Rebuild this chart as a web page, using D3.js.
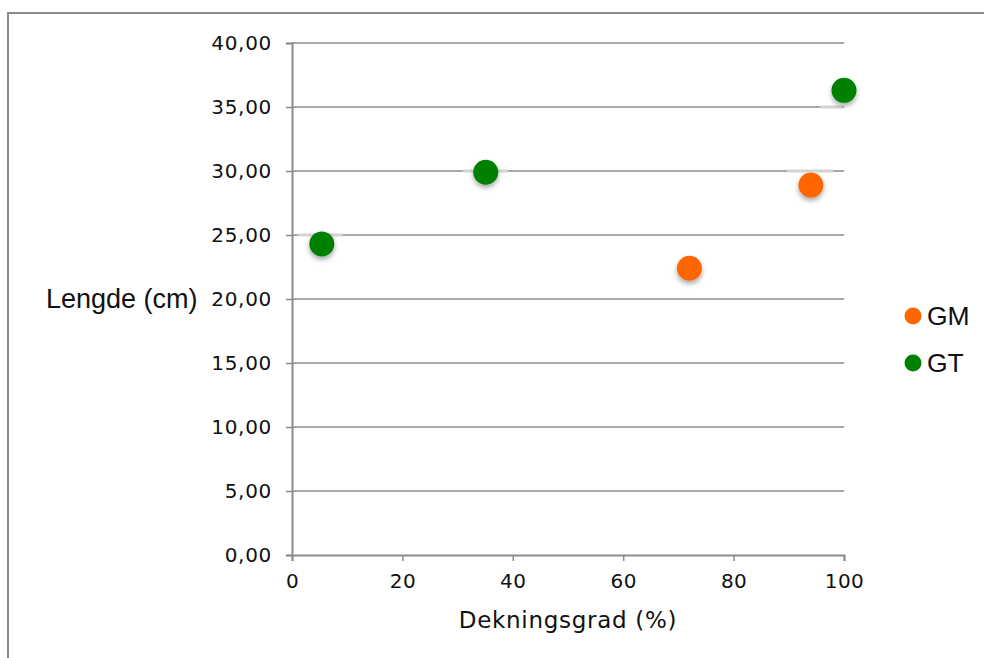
<!DOCTYPE html>
<html>
<head>
<meta charset="utf-8">
<script src="https://cdn.jsdelivr.net/npm/d3@7"></script>
<style>
  html, body { margin: 0; padding: 0; background: #fff; }
  svg { display: block; }
</style>
</head>
<body>
<svg id="chart" width="984" height="658"></svg>
<script>
// ---- data ----
const seriesNames = ["GM", "GT"];
const seriesColors = ["#ff6600", "#008000"];
const gmX = [72, 94];
const gmY = [22.4, 28.9];
const gtX = [5.4, 35.1, 100];
const gtY = [24.3, 29.9, 36.3];
const xTicks = [0, 20, 40, 60, 80, 100];
const yTicks = [0, 5, 10, 15, 20, 25, 30, 35, 40];
// light grey highlight segments seen over gridlines near markers: [x1, x2, y]
const highlights = [[1.1, 9.2, 25], [31, 39.1, 30], [95.7, 99.8, 35], [89.7, 98, 30]];
const xTitle = "Dekningsgrad (%)";
const yTitle = "Lengde (cm)";

// ---- layout ----
const svg = d3.select("#chart");
const x = d3.scaleLinear().domain([0, 100]).range([292, 844]);
const y = d3.scaleLinear().domain([0, 40]).range([555, 43]);
const fmtY = v => d3.format(".2f")(v).replace(".", ",");
const tickFont = "'DejaVu Sans', Verdana, sans-serif";

// outer frame
svg.append("path")
  .attr("d", "M8,660 L8,13 L986,13")
  .attr("fill", "none").attr("stroke", "#8a8a8a").attr("stroke-width", 2);

// drop shadow filter
const defs = svg.append("defs");
const f = defs.append("filter").attr("id", "shadow")
  .attr("x", "-50%").attr("y", "-50%").attr("width", "200%").attr("height", "200%");
f.append("feDropShadow").attr("dx", 0).attr("dy", 3).attr("stdDeviation", 2.5)
  .attr("flood-color", "#000").attr("flood-opacity", 0.35);

// gridlines
svg.append("g").selectAll("line").data(yTicks.filter(d => d > 0)).join("line")
  .attr("x1", x(0)).attr("x2", x(100))
  .attr("y1", d => y(d)).attr("y2", d => y(d))
  .attr("stroke", "#8c8c8c").attr("stroke-width", 1.5);

// highlight segments
svg.append("g").selectAll("line").data(highlights).join("line")
  .attr("x1", d => x(d[0])).attr("x2", d => x(d[1]))
  .attr("y1", d => y(d[2])).attr("y2", d => y(d[2]))
  .attr("stroke", "#d4d4d4").attr("stroke-width", 3);

// y axis
const yAxis = svg.append("g").attr("transform", `translate(${x(0)},0)`)
  .call(d3.axisLeft(y).tickValues(yTicks).tickSize(6).tickPadding(14).tickFormat(fmtY));
yAxis.select(".domain").attr("stroke", "#8c8c8c").attr("stroke-width", 2);
yAxis.selectAll(".tick line").attr("stroke", "#8c8c8c").attr("stroke-width", 1.5);
yAxis.selectAll(".tick text")
  .attr("font-family", tickFont)
  .attr("font-size", 20).attr("letter-spacing", 0.7)
  .attr("fill", "#111");

// x axis
const xAxis = svg.append("g").attr("transform", `translate(0,${y(0)})`)
  .call(d3.axisBottom(x).tickValues(xTicks).tickSize(6).tickPadding(13));
xAxis.select(".domain").attr("stroke", "#8c8c8c").attr("stroke-width", 2);
xAxis.selectAll(".tick line").attr("stroke", "#8c8c8c").attr("stroke-width", 1.5);
xAxis.selectAll(".tick text")
  .attr("font-family", tickFont)
  .attr("font-size", 20).attr("letter-spacing", 0.5)
  .attr("fill", "#111");

// axis titles
svg.append("text")
  .attr("x", x(50)).attr("y", 628)
  .attr("text-anchor", "middle")
  .attr("font-family", tickFont)
  .attr("font-size", 23).attr("letter-spacing", 0.7)
  .attr("fill", "#111")
  .text(xTitle);

svg.append("text")
  .attr("x", 46).attr("y", y(20) + 9)
  .attr("font-family", "'Liberation Sans', Arial, sans-serif")
  .attr("font-size", 27)
  .attr("fill", "#111")
  .text(yTitle);

// points
const series = [
  { name: seriesNames[0], color: seriesColors[0], xs: gmX, ys: gmY },
  { name: seriesNames[1], color: seriesColors[1], xs: gtX, ys: gtY }
];
series.forEach(s => {
  svg.append("g").attr("filter", "url(#shadow)")
    .selectAll("circle").data(s.xs.map((v, i) => [v, s.ys[i]])).join("circle")
    .attr("cx", d => x(d[0])).attr("cy", d => y(d[1]))
    .attr("r", 12.5).attr("fill", s.color);
});

// legend
const legend = svg.append("g");
series.forEach((s, i) => {
  const cy = 316 + i * 47;
  legend.append("circle").attr("cx", 913).attr("cy", cy).attr("r", 8.5).attr("fill", s.color);
  legend.append("text").attr("x", 927).attr("y", cy + 9)
    .attr("font-family", "'Liberation Sans', Arial, sans-serif")
    .attr("font-size", 26.5).attr("fill", "#111")
    .text(s.name);
});
</script>
</body>
</html>
